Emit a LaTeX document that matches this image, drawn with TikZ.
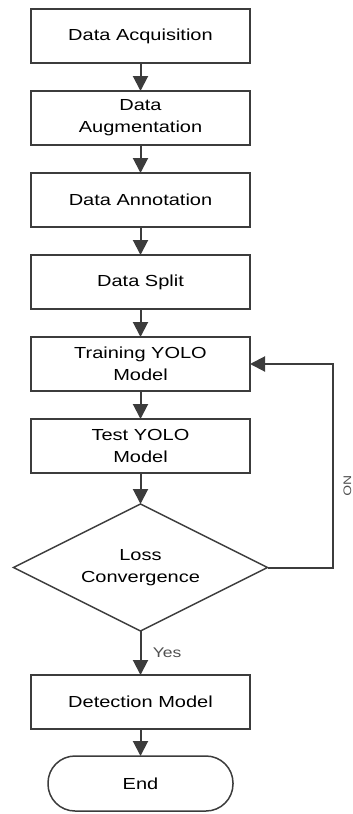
\documentclass[tikz,border=0pt]{standalone}
\usepackage{fontspec}
\setmainfont{Liberation Sans}[FakeStretch=1.25]
\usetikzlibrary{arrows.meta,positioning,shapes.geometric}
\definecolor{linegray}{HTML}{3C3C3C}
\definecolor{labelgray}{HTML}{505050}

\begin{document}
\begin{tikzpicture}[
  x=1pt,y=1pt,
  font=\fontsize{16}{22}\selectfont,
  node distance=28pt,
  box/.style={draw=linegray,line width=2pt,outer sep=0pt,minimum width=219pt,minimum height=54pt,inner sep=2pt,align=center},
  decision/.style={diamond,shape aspect=2,draw=linegray,line width=1.5pt,outer sep=0pt,minimum width=254pt,minimum height=127pt,inner sep=0pt,align=center},
  term/.style={draw=linegray,line width=1.5pt,outer sep=0pt,rounded corners=27pt,minimum width=185pt,minimum height=55pt,align=center},
  arr/.style={-{Triangle[length=15pt,width=15pt]},line width=2pt,draw=linegray}
]
\useasboundingbox (0,0) rectangle (353,-814);
\node[box] (acq) at (140.5,-36) {Data Acquisition};
\node[box,below=of acq] (aug) {Data\\Augmentation};
\node[box,below=of aug] (ann) {Data Annotation};
\node[box,below=of ann] (split) {Data Split};
\node[box,below=of split] (train) {Training YOLO\\Model};
\node[box,below=of train] (test) {Test YOLO\\Model};
\node[decision,below=31pt of test] (loss) {Loss\\Convergence};
\node[box,below=44pt of loss] (det) {Detection Model};
\node[term,below=27pt of det] (end) {End};
\draw[arr] (acq) -- (aug);
\draw[arr] (aug) -- (ann);
\draw[arr] (ann) -- (split);
\draw[arr] (split) -- (train);
\draw[arr] (train) -- (test);
\draw[arr] (test) -- (loss);
\draw[arr] (loss) -- (det)
  node[midway,right,xshift=8pt,text=labelgray,font=\fontsize{14}{16}\selectfont] {Yes};
\draw[arr] (det) -- (end);
% loop back when not converged
\draw[arr] (loss.east) -- ++(65,0) |- (train.east)
  node[pos=0.2,xshift=15pt,rotate=-90,text=labelgray,font=\fontsize{11}{13}\selectfont] {NO};
\end{tikzpicture}
\end{document}
